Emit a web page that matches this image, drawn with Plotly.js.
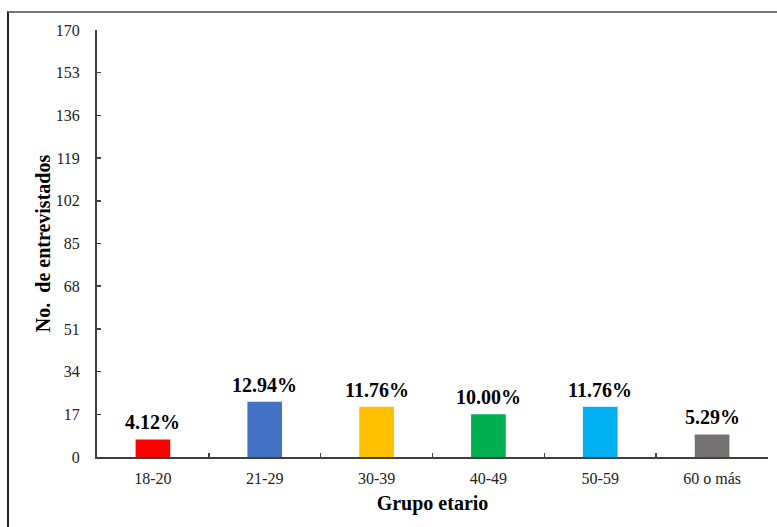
<!DOCTYPE html>
<html>
<head>
<meta charset="utf-8">
<script src="https://cdn.plot.ly/plotly-3.0.1.min.js"></script>
<style>
  html, body { margin: 0; padding: 0; background: #fff; }
  #wrap { position: relative; width: 777px; height: 527px; overflow: hidden; }
  #frame { position: absolute; left: 7px; top: 11px; width: 900px; height: 700px;
           border-left: 2px solid #222; border-top: 2px solid #777; box-sizing: border-box; }
  #chart { position: absolute; left: 0; top: 0; width: 777px; height: 527px; }
</style>
</head>
<body>
<div id="wrap">
  <div id="frame"></div>
  <div id="chart"></div>
</div>
<script>
// Age groups, respondent counts and their share of the 170 interviewed
const categories = ['18-20', '21-29', '30-39', '40-49', '50-59', '60 o más'];
const counts = [7, 22, 20, 17, 20, 9];
const shareLabels = ['4.12%', '12.94%', '11.76%', '10.00%', '11.76%', '5.29%'];
const barColors = ['#FF0000', '#4472C4', '#FFC000', '#00B050', '#00B0F0', '#767171'];
const yTicks = [0, 17, 34, 51, 68, 85, 102, 119, 136, 153, 170];

const serif = '"Liberation Serif", "Times New Roman", serif';
const axisColor = '#404040';

const trace = {
  type: 'bar',
  x: categories,
  y: counts,
  marker: { color: barColors, line: { width: 0 } },
  hoverinfo: 'x+y'
};

const annotations = categories.map((c, i) => ({
  x: c, y: counts[i], xref: 'x', yref: 'y',
  text: '<b>' + shareLabels[i] + '</b>',
  showarrow: false, yanchor: 'bottom', yshift: 4,
  font: { family: serif, size: 20, color: '#000' }
}));

const layout = {
  width: 777, height: 527,
  margin: { l: 97, r: 9, t: 30, b: 70, pad: 0 },
  paper_bgcolor: 'rgba(0,0,0,0)',
  plot_bgcolor: 'rgba(0,0,0,0)',
  bargap: 0.69,
  showlegend: false,
  font: { family: serif, size: 16, color: '#222' },
  xaxis: {
    type: 'category',
    showline: true, linecolor: axisColor, linewidth: 2,
    ticks: 'inside', tickson: 'boundaries', ticklen: 4, tickcolor: axisColor, tickwidth: 1.5,
    showgrid: false, zeroline: false,
    ticklabelstandoff: 6,
    tickfont: { family: serif, size: 16, color: '#222' },
    title: { text: '<b>Grupo etario</b>', font: { family: serif, size: 20, color: '#000' }, standoff: 10 },
    automargin: false
  },
  yaxis: {
    range: [0, 170],
    tickvals: yTicks,
    showline: true, linecolor: axisColor, linewidth: 2,
    ticks: 'inside', ticklen: 4, tickcolor: axisColor, tickwidth: 1.5,
    showgrid: false, zeroline: false,
    ticklabelstandoff: 12,
    tickfont: { family: serif, size: 16, color: '#222' },
    title: { text: '<b>No.\u00A0 de entrevistados</b>', font: { family: serif, size: 20, color: '#000' }, standoff: 0 },
    automargin: false
  },
  annotations: annotations
};

Plotly.newPlot('chart', [trace], layout, { displayModeBar: false, staticPlot: true });
</script>
</body>
</html>
